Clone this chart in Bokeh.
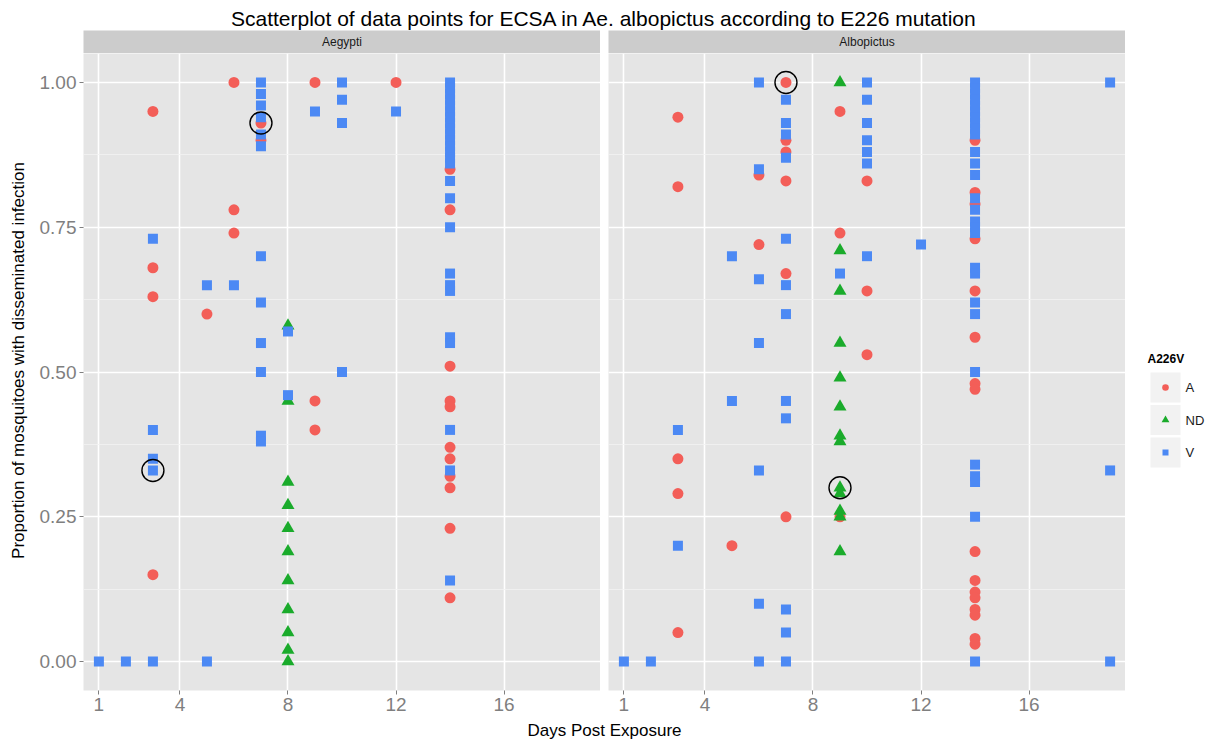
import math
from bokeh.plotting import figure
from bokeh.layouts import row, column
from bokeh.models import Range1d, FixedTicker, NumeralTickFormatter
from bokeh.core.properties import value
from bokeh.embed import file_html
from bokeh.resources import INLINE

# ---------------- texts ----------------
TITLE = "Scatterplot of data points for ECSA in Ae. albopictus according to E226 mutation"
X_LABEL = "Days Post Exposure"
Y_LABEL = "Proportion of mosquitoes with disseminated infection"
PANELS = ["Aegypti", "Albopictus"]
LEGEND_TITLE = "A226V"
CATEGORIES = ["A", "ND", "V"]
X_TICKS = [1, 4, 8, 12, 16]
Y_TICKS = [0.0, 0.25, 0.5, 0.75, 1.0]
Y_TICK_LABELS = ["0.00", "0.25", "0.50", "0.75", "1.00"]
Y_MINOR = [0.125, 0.375, 0.625, 0.875]

# ---------------- data: day -> proportions ----------------
aeg_A = {3: [0.95, 0.68, 0.63, 0.15], 5: [0.60], 6: [1.00, 0.78, 0.74],
         7: [0.93, 0.90], 9: [1.00, 0.45, 0.40], 12: [1.00],
         14: [0.85, 0.78, 0.51, 0.45, 0.44, 0.37, 0.35, 0.32, 0.30, 0.23, 0.11]}
aeg_ND = {8: [0.58, 0.45, 0.31, 0.27, 0.23, 0.19, 0.14, 0.09, 0.05, 0.02, 0.00]}
aeg_V = {1: [0.00], 2: [0.00], 3: [0.73, 0.40, 0.35, 0.33, 0.00], 5: [0.65, 0.00],
         6: [0.65],
         7: [1.00, 0.98, 0.96, 0.94, 0.91, 0.89, 0.70, 0.62, 0.55, 0.50, 0.39, 0.38],
         8: [0.57, 0.46], 9: [0.95], 10: [1.00, 0.97, 0.93, 0.50], 12: [0.95],
         14: [1.00, 0.99, 0.98, 0.97, 0.96, 0.95, 0.94, 0.93, 0.92, 0.91, 0.90, 0.89,
              0.88, 0.87, 0.86, 0.83, 0.80, 0.75, 0.67, 0.65, 0.64, 0.56, 0.55, 0.40,
              0.33, 0.14]}
aeg_circled_day = [7, 3]
aeg_circled_prop = [0.93, 0.33]

alb_A = {3: [0.94, 0.82, 0.35, 0.29, 0.05], 5: [0.20], 6: [0.84, 0.72],
         7: [1.00, 0.90, 0.88, 0.83, 0.67, 0.25], 9: [0.95, 0.74, 0.25],
         10: [0.83, 0.64, 0.53],
         14: [0.90, 0.81, 0.79, 0.73, 0.64, 0.56, 0.48, 0.47, 0.19, 0.14, 0.12, 0.11,
              0.09, 0.08, 0.04, 0.03]}
alb_ND = {9: [1.00, 0.71, 0.64, 0.55, 0.49, 0.44, 0.39, 0.38, 0.30, 0.29, 0.26, 0.25, 0.19]}
alb_V = {1: [0.00], 2: [0.00], 3: [0.40, 0.20], 5: [0.70, 0.45],
         6: [1.00, 0.85, 0.66, 0.55, 0.33, 0.10, 0.00],
         7: [0.97, 0.93, 0.91, 0.87, 0.73, 0.65, 0.60, 0.45, 0.42, 0.09, 0.05, 0.00],
         9: [0.67], 10: [1.00, 0.97, 0.93, 0.90, 0.88, 0.86, 0.70], 12: [0.72],
         14: [1.00, 0.99, 0.98, 0.97, 0.96, 0.95, 0.94, 0.93, 0.92, 0.91, 0.88, 0.86,
              0.84, 0.80, 0.78, 0.76, 0.75, 0.74, 0.68, 0.67, 0.62, 0.60, 0.50, 0.34,
              0.32, 0.31, 0.25, 0.00],
         19: [1.00, 0.33, 0.00]}
alb_circled_day = [7, 9]
alb_circled_prop = [1.00, 0.30]

# ---------------- styles ----------------
COLORS = {"A": "#F35E58", "ND": "#1AAB2B", "V": "#4C89F4"}
MARKERS = {"A": "circle", "ND": "triangle", "V": "square"}
SIZES = {"A": 11, "ND": 13, "V": 10}
FONT = "Liberation Sans"
PANEL_BG = "#E5E5E5"
STRIP_BG = "#CCCCCC"
TICK_GREY = "#7F7F7F"


def flatten(groups):
    xs, ys = [], []
    for d, props in groups.items():
        for v in props:
            xs.append(d)
            ys.append(v)
    return xs, ys


def bare(width, height, xr, yr, ml=0, bg="white"):
    f = figure(width=width, height=height, x_range=xr, y_range=yr,
               x_axis_location=None, y_axis_location=None,
               output_backend="svg", toolbar_location=None,
               min_border_left=ml, min_border_right=0,
               min_border_top=0, min_border_bottom=0)
    f.grid.visible = False
    f.outline_line_color = None
    f.background_fill_color = bg
    f.border_fill_color = "white"
    return f


# ---------------- title / axis titles ----------------
title_fig = bare(1208, 30, Range1d(0, 1208), Range1d(0, 30))
title_fig.text(x=[604], y=[12], text=[TITLE], text_align="center", text_baseline="middle",
               text_font=value(FONT), text_font_size="21px", text_color="black")

xlab_fig = bare(1208, 23, Range1d(0, 1208), Range1d(0, 23))
xlab_fig.text(x=[604], y=[10], text=[X_LABEL], text_align="center", text_baseline="middle",
              text_font=value(FONT), text_font_size="17px", text_color="black")

ylab_fig = bare(30, 687, Range1d(0, 30), Range1d(0, 687))
ylab_fig.text(x=[18], y=[357], text=[Y_LABEL], angle=math.pi / 2, text_align="center",
              text_baseline="middle", text_font=value(FONT), text_font_size="17px",
              text_color="black")


# ---------------- strips ----------------
def strip(name, width, ml):
    s = bare(width, 23, Range1d(0, 1), Range1d(0, 1), ml=ml, bg=STRIP_BG)
    s.text(x=[0.5], y=[0.5], text=[name], text_align="center", text_baseline="middle",
           text_font=value(FONT), text_font_size="12px", text_color="#1A1A1A")
    return s


strip_l = strip(PANELS[0], 570, 53)
strip_r = strip(PANELS[1], 525, 8)


# ---------------- panels ----------------
def panel(groups_by_cat, circ_x, circ_y, first):
    p = figure(width=570 if first else 525, height=664,
               x_range=Range1d(0.43, 19.57), y_range=Range1d(-0.05, 1.05),
               y_axis_location="left" if first else None,
               output_backend="svg", toolbar_location=None,
               min_border_left=53 if first else 8, min_border_right=0,
               min_border_top=0, min_border_bottom=27)
    p.background_fill_color = PANEL_BG
    p.border_fill_color = "white"
    p.outline_line_color = None

    p.xgrid.ticker = FixedTicker(ticks=X_TICKS, minor_ticks=[])
    p.ygrid.ticker = FixedTicker(ticks=Y_TICKS, minor_ticks=Y_MINOR)
    for g in p.grid:
        g.grid_line_color = "white"
        g.grid_line_width = 1.6
    p.ygrid.minor_grid_line_color = "#F2F2F2"
    p.ygrid.minor_grid_line_width = 0.8

    p.xaxis.ticker = FixedTicker(ticks=X_TICKS, minor_ticks=[])
    axes = list(p.xaxis)
    if first:
        p.yaxis.ticker = FixedTicker(ticks=Y_TICKS, minor_ticks=[])
        p.yaxis.formatter = NumeralTickFormatter(format="0.00")
        p.yaxis.major_label_overrides = dict(zip(Y_TICKS, Y_TICK_LABELS))
        axes += list(p.yaxis)
    for ax in axes:
        ax.axis_line_color = None
        ax.major_tick_line_color = TICK_GREY
        ax.major_tick_in = 0
        ax.major_tick_out = 4
        ax.minor_tick_line_color = None
        ax.major_label_text_font = FONT
        ax.major_label_text_font_size = "19px"
        ax.major_label_text_color = TICK_GREY
        ax.major_label_standoff = 3

    for cat in CATEGORIES:
        xs, ys = flatten(groups_by_cat[cat])
        p.scatter(x=xs, y=ys, marker=MARKERS[cat], size=SIZES[cat],
                  fill_color=COLORS[cat], line_color=None)
    p.scatter(x=circ_x, y=circ_y, marker="circle", size=22, fill_color=None,
              line_color="black", line_width=1.4)
    return p


p_l = panel({"A": aeg_A, "ND": aeg_ND, "V": aeg_V}, aeg_circled_day, aeg_circled_prop, True)
p_r = panel({"A": alb_A, "ND": alb_ND, "V": alb_V}, alb_circled_day, alb_circled_prop, False)

# ---------------- legend ----------------
leg = bare(83, 687, Range1d(0, 83), Range1d(687, 0))
leg.text(x=[22], y=[328], text=[LEGEND_TITLE], text_align="left", text_baseline="middle",
         text_font=value(FONT), text_font_size="12px", text_font_style="bold",
         text_color="black")
n = len(CATEGORIES)
key_top = [342 + 32.5 * i for i in range(n)]
leg.quad(left=[25] * n, right=[55] * n, top=key_top, bottom=[t + 30 for t in key_top],
         fill_color="#F2F2F2", line_color=None)
for i, cat in enumerate(CATEGORIES):
    leg.scatter(x=[40], y=[key_top[i] + 15], marker=MARKERS[cat], size=SIZES[cat] * 0.6,
                fill_color=COLORS[cat], line_color=None)
leg.text(x=[60] * n, y=[t + 15 for t in key_top], text=CATEGORIES, text_align="left",
         text_baseline="middle", text_font=value(FONT), text_font_size="13px",
         text_color="#1A1A1A")

layout = column(
    title_fig,
    row(ylab_fig, column(row(strip_l, strip_r), row(p_l, p_r)), leg),
    xlab_fig,
)

open("out.html", "w").write(file_html(layout, INLINE))
